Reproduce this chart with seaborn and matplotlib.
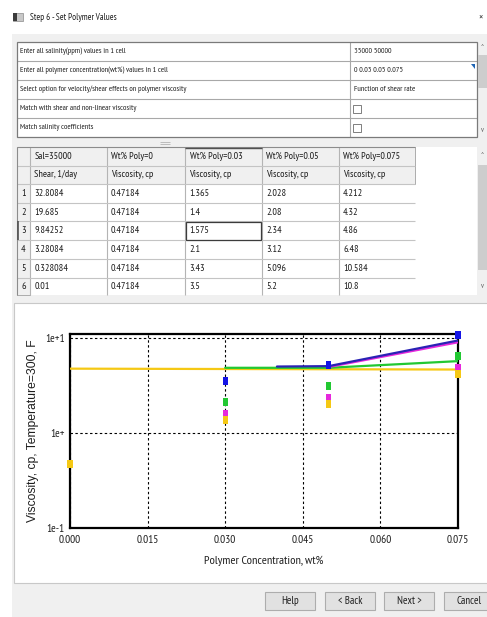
import matplotlib
matplotlib.use("Agg")
import numpy as np
import pandas as pd
import matplotlib.pyplot as plt
from matplotlib import font_manager
from matplotlib.patches import Rectangle, Polygon
from matplotlib.ticker import FixedLocator, FixedFormatter, NullLocator
import seaborn as sns

# ---------------- dialog contents ----------------
dialog_title = "Step 6 - Set Polymer Values"
settings_labels = [
    "Enter all salinity(ppm) values in 1 cell",
    "Enter all polymer concentration(wt%) values in 1 cell",
    "Select option for velocity/shear effects on polymer viscosity",
    "Match with shear and non-linear viscosity",
    "Match salinity coefficients",
]
settings_values = ["35000 50000", "0 0.03 0.05 0.075", "Function of shear rate", None, None]

header_top = ["Sal=35000", "Wt% Poly=0", "Wt% Poly=0.03", "Wt% Poly=0.05", "Wt% Poly=0.075"]
header_sub = ["Shear, 1/day", "Viscosity, cp", "Viscosity, cp", "Viscosity, cp", "Viscosity, cp"]

# shear-rate table (one viscosity column per polymer concentration)
shear_rate = [32.8084, 19.685, 9.84252, 3.28084, 0.328084, 0.01]
visc_poly_0 = [0.47184, 0.47184, 0.47184, 0.47184, 0.47184, 0.47184]
visc_poly_003 = [1.365, 1.4, 1.575, 2.1, 3.43, 3.5]
visc_poly_005 = [2.028, 2.08, 2.34, 3.12, 5.096, 5.2]
visc_poly_0075 = [4.212, 4.32, 4.86, 6.48, 10.584, 10.8]
polymer_conc = [0.0, 0.03, 0.05, 0.075]

# rows of the table that are plotted, and their colours
plotted_rows = [5, 3, 2, 0]
series_colors = ["#1414e6", "#22c832", "#e628dc", "#f5c814"]

# fitted viscosity curves for the same shear rates
fit_conc_row5 = [0.04, 0.05, 0.075]
fit_visc_row5 = [5.0, 5.05, 9.4]
fit_conc_row3 = [0.03, 0.05, 0.075]
fit_visc_row3 = [4.85, 4.85, 5.7]
fit_conc_row2 = [0.05, 0.075]
fit_visc_row2 = [4.95, 9.0]
fit_conc_row0 = [0.0, 0.075]
fit_visc_row0 = [4.75, 4.65]

x_ticks = [0.0, 0.015, 0.030, 0.045, 0.060, 0.075]
x_tick_labels = ["0.000", "0.015", "0.030", "0.045", "0.060", "0.075"]
y_ticks = [0.1, 1.0, 10.0]
y_tick_labels = ["1e-1", "1e+", "1e+1"]
x_label = "Polymer Concentration, wt%"
y_label = "Viscosity, cp, Temperature=300, F"
button_labels = ["Help", "< Back", "Next >", "Cancel"]

# ---------------- fonts ----------------
sns.set_theme(style="white")
available = {f.name for f in font_manager.fontManager.ttflist}


def first_available(candidates):
    for name in candidates:
        if name in available:
            return name
    return "DejaVu Sans"


NARROW = first_available(["Liberation Sans Narrow", "Arial Narrow", "PT Sans Narrow",
                          "Roboto Condensed", "Archivo Narrow", "Pragati Narrow"])
REGULAR = first_available(["Liberation Sans", "Arimo", "DejaVu Sans"])
NARROW_FAM = [NARROW, "DejaVu Sans"]
plt.rcParams["font.family"] = NARROW_FAM

W, H = 487, 617
fig = plt.figure(figsize=(W / 100, H / 100), dpi=100)
fig.patch.set_facecolor("white")

# pixel-space layer for the dialog chrome
ui = fig.add_axes([0, 0, 1, 1])
ui.set_xlim(0, W)
ui.set_ylim(H, 0)
ui.axis("off")

TXT = "#1e1e1e"


def box(x0, y0, x1, y1, fc, ec="none", lw=0.8, z=1):
    ui.add_patch(Rectangle((x0, y0), x1 - x0, y1 - y0, facecolor=fc,
                           edgecolor=ec, linewidth=lw, zorder=z))


def hline(x0, x1, y, color, lw=0.8, z=2):
    ui.plot([x0, x1], [y, y], color=color, lw=lw, zorder=z, solid_capstyle="butt")


def vline(x, y0, y1, color, lw=0.8, z=2):
    ui.plot([x, x], [y0, y1], color=color, lw=lw, zorder=z, solid_capstyle="butt")


def label(x, y, s, size=6.0, ha="left", color=TXT, family=None, z=4):
    ui.text(x, y, s, fontsize=size, ha=ha, va="center", color=color,
            family=family or NARROW_FAM, zorder=z)


# title bar and dialog body
box(0, 0, W, 34, "white")
box(12, 34, W, H, "#f0f0f0")
box(13, 13, 23, 21, "#c8c8c8", ec="#8a8a8a", lw=0.5, z=3)
box(13, 13, 16.5, 21, "#3c3c3c", z=3)
label(30, 17, dialog_title, size=6.6)
label(481, 17, "×", size=7.5, ha="center", color="#333333")

# ---- settings grid ----
rows_y = [42, 61, 80, 99, 118, 137]
box(17, 42, 477, 137, "white", z=1)
for y in rows_y[1:-1]:
    hline(17, 477, y, "#a8a8a8")
vline(350, 42, 137, "#a8a8a8")
ui.add_patch(Rectangle((17, 42), 460, 95, facecolor="none", edgecolor="#7a7a7a",
                       linewidth=0.9, zorder=3))
for i, text in enumerate(settings_labels):
    yc = (rows_y[i] + rows_y[i + 1]) / 2
    label(20.5, yc, text, size=5.9)
    val = settings_values[i]
    if val is None:
        box(353, yc - 4, 361, yc + 4, "white", ec="#6a6a6a", lw=0.6, z=3)
    else:
        label(353.5, yc, val, size=5.9)
ui.add_patch(Polygon([[471, 64], [475, 64], [475, 69]], closed=True,
                     facecolor="#1e64b4", edgecolor="none", zorder=4))
# settings scrollbar
box(477, 42, 487, 137, "#f0f0f0", z=2)
box(478, 55, 486.5, 88, "#cdcdcd", z=3)
label(482, 48, "^", size=5.5, ha="center", color="#606060")
label(482, 131, "v", size=5.5, ha="center", color="#606060")
# splitter grip
hline(160, 170, 141.5, "#b4b4b4", lw=0.6)
hline(160, 170, 143.5, "#b4b4b4", lw=0.6)

# ---- viscosity table ----
col_x = [17, 30, 106.5, 185, 261.5, 338.5, 415]
row_y = [147, 165.5, 184, 202.7, 221.4, 240.1, 258.8, 277.5, 296.2]
grid_bottom = 295
box(17, 147, 477, grid_bottom, "white", z=1)
# header cells and row-number column
for r in range(2):
    box(col_x[0], row_y[r], col_x[-1], row_y[r + 1], "#f0f0f0", ec="#a0a0a0", lw=0.6, z=2)
for r in range(2, 8):
    box(col_x[0], row_y[r], col_x[1], min(row_y[r + 1], grid_bottom), "#f0f0f0",
        ec="#a0a0a0", lw=0.6, z=2)
for c in range(1, 6):
    vline(col_x[c], 147, grid_bottom, "#b4b4b4", z=2)
for r in range(1, 8):
    hline(col_x[0], col_x[-1], row_y[r], "#c4c4c4", z=2)
vline(col_x[0], 147, grid_bottom, "#8c8c8c", lw=0.8, z=3)
hline(col_x[0], col_x[-1], 147, "#8c8c8c", lw=0.8, z=3)
# current cell and current column header
ui.add_patch(Rectangle((col_x[3] + 0.5, row_y[4] + 0.5), col_x[4] - col_x[3] - 1,
                       row_y[5] - row_y[4] - 1, facecolor="none", edgecolor="#3c3c3c",
                       linewidth=0.9, zorder=4))
hline(col_x[3], col_x[4], row_y[0] + 0.6, "#505050", lw=1.0, z=4)
vline(col_x[0] + 0.6, row_y[4], row_y[5], "#505050", lw=1.2, z=4)

table_columns = [shear_rate, visc_poly_0, visc_poly_003, visc_poly_005, visc_poly_0075]
for c in range(5):
    x0 = col_x[c + 1] + 4.5
    label(x0, (row_y[0] + row_y[1]) / 2, header_top[c], size=7.3)
    label(x0, (row_y[1] + row_y[2]) / 2, header_sub[c], size=7.3)
    for r in range(6):
        yc = (row_y[r + 2] + row_y[r + 3]) / 2
        if yc < grid_bottom:
            label(x0, yc, str(table_columns[c][r]), size=7.3)
for r in range(6):
    yc = (row_y[r + 2] + row_y[r + 3]) / 2
    label((col_x[0] + col_x[1]) / 2, yc, str(r + 1), size=7.3, ha="center")
# table scrollbar
box(477, 147, 487, grid_bottom, "#f0f0f0", z=2)
box(478, 165, 486.5, 270, "#cdcdcd", z=3)
label(482, 155, "^", size=5.5, ha="center", color="#606060")
label(482, 286, "v", size=5.5, ha="center", color="#606060")

# ---- chart panel ----
box(14, 303, W + 2, 583, "white", ec="#c8c8c8", lw=0.8, z=1)

# ---- buttons ----
btn_x = [265, 325, 384, 444]
for x0, text in zip(btn_x, button_labels):
    box(x0, 592, x0 + 50, 610, "#e1e1e1", ec="#adadad", lw=0.8, z=2)
    label(x0 + 25, 601, text, size=7.8, ha="center")

# ---------------- viscosity chart ----------------
ax = fig.add_axes([70 / W, (H - 528) / H, 388 / W, 194 / H])
ax.set_facecolor("none")

point_records = []
for row, color in zip(plotted_rows, series_colors):
    for conc, col in zip(polymer_conc, table_columns[1:]):
        point_records.append({"conc": conc, "visc": col[row], "series": f"row{row}"})
points = pd.DataFrame(point_records)

fit_curves = pd.concat([
    pd.DataFrame({"conc": fit_conc_row0, "visc": fit_visc_row0, "series": "row0"}),
    pd.DataFrame({"conc": fit_conc_row3, "visc": fit_visc_row3, "series": "row3"}),
    pd.DataFrame({"conc": fit_conc_row2, "visc": fit_visc_row2, "series": "row2"}),
    pd.DataFrame({"conc": fit_conc_row5, "visc": fit_visc_row5, "series": "row5"}),
], ignore_index=True)

palette = {f"row{r}": c for r, c in zip(plotted_rows, series_colors)}
line_palette = dict(palette)
line_palette["row5"] = "#2a22b4"

sns.lineplot(data=fit_curves, x="conc", y="visc", hue="series", palette=line_palette,
             hue_order=["row0", "row3", "row2", "row5"], sort=False, estimator=None,
             linewidth=1.6, legend=False, ax=ax, zorder=3)

tall_square = [(-0.62, -1.0), (0.62, -1.0), (0.62, 1.0), (-0.62, 1.0)]
sns.scatterplot(data=points, x="conc", y="visc", hue="series", palette=palette,
                marker=tall_square, s=34, linewidth=0, legend=False, ax=ax,
                zorder=6, clip_on=False)

ax.set_yscale("log")
ax.set_xlim(0.0, 0.075)
ax.set_ylim(0.1, 11.0)
ax.xaxis.set_major_locator(FixedLocator(x_ticks))
ax.xaxis.set_major_formatter(FixedFormatter(x_tick_labels))
ax.yaxis.set_major_locator(FixedLocator(y_ticks))
ax.yaxis.set_major_formatter(FixedFormatter(y_tick_labels))
ax.yaxis.set_minor_locator(NullLocator())
ax.grid(True, which="major", color="black", linestyle=(0, (2.2, 2.2)), linewidth=0.8)
for side in ["left", "right", "top", "bottom"]:
    ax.spines[side].set_visible(True)
    ax.spines[side].set_color("black")
    ax.spines[side].set_linewidth(1.6)
ax.tick_params(axis="both", which="major", direction="out", length=2.4, width=0.8,
               color="black", labelcolor="#1e1e1e", labelsize=8.2)
ax.tick_params(axis="x", pad=2.5)
ax.tick_params(axis="y", pad=1.5)
for lab in ax.get_xticklabels() + ax.get_yticklabels():
    lab.set_family(NARROW_FAM)

ax.set_xlabel(x_label, fontsize=8.8, color="#1e1e1e", family=NARROW_FAM)
ax.xaxis.set_label_coords(0.5, -0.14)
ax.set_ylabel(y_label, fontsize=8.7, color="#1e1e1e", family=[REGULAR, "DejaVu Sans"])
ax.yaxis.set_label_coords(-0.08, 0.5)

fig.savefig("out.png", dpi=100)
